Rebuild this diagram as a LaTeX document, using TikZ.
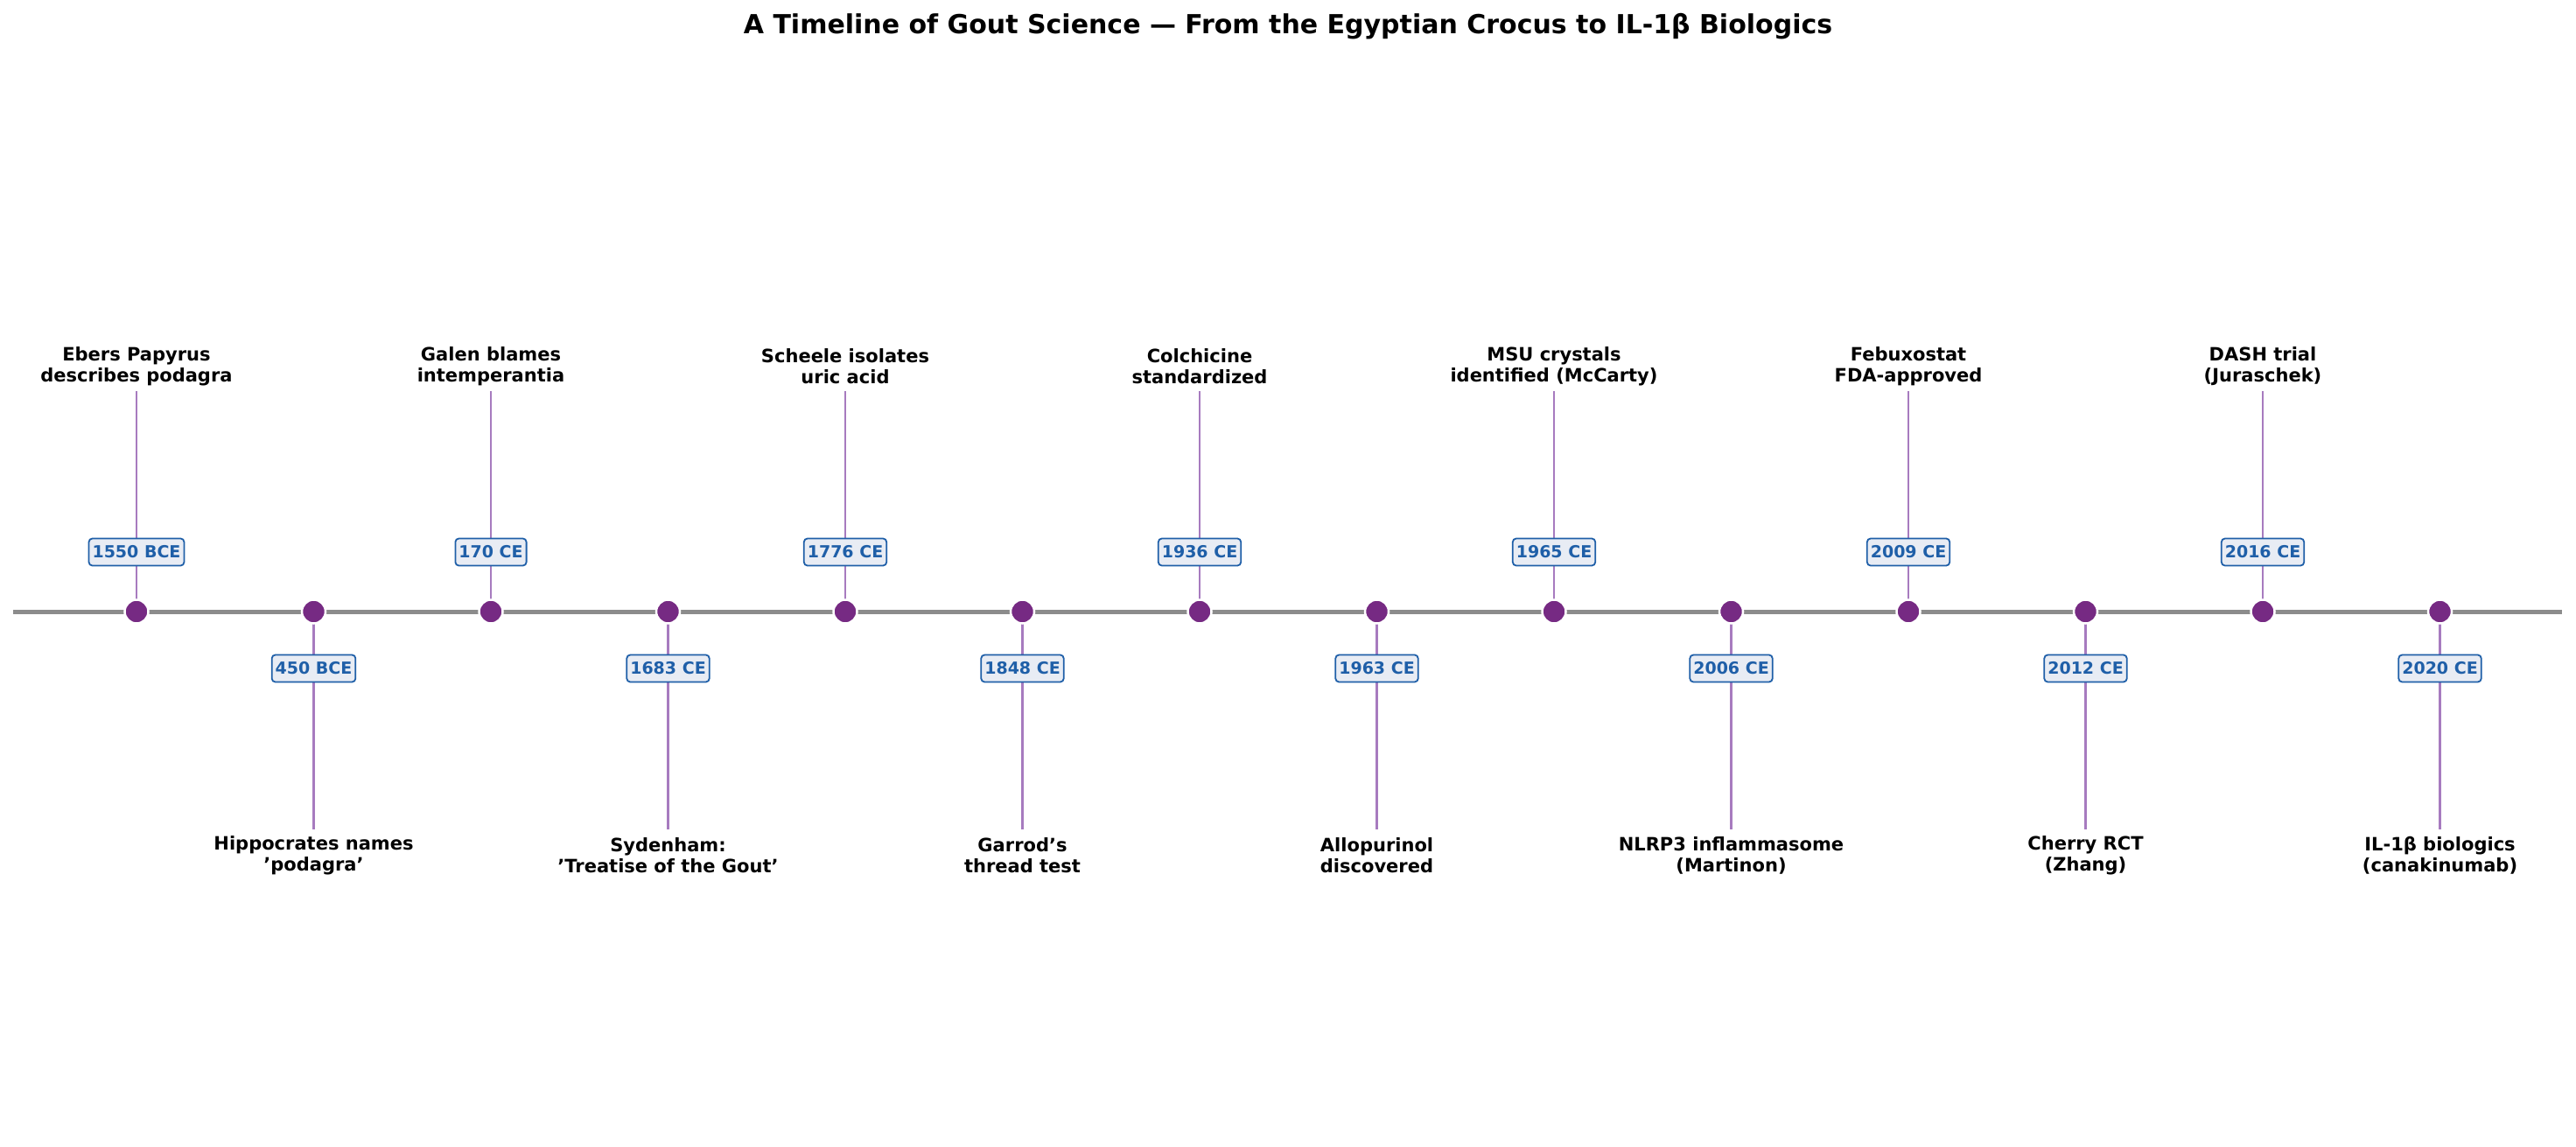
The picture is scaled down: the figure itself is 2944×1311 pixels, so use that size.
\documentclass[tikz,border=0pt]{standalone}
\usepackage{fontspec}
\setmainfont{DejaVu Sans}
\definecolor{dotc}{HTML}{762A83}
\definecolor{stemc}{HTML}{A77BBF}
\definecolor{yrc}{HTML}{1F5FA8}
\definecolor{yrfill}{HTML}{E8ECF4}
\begin{document}
\begin{tikzpicture}[x=1pt,y=-1pt,
  ev/.style={font=\fontsize{21}{24}\selectfont\bfseries, align=center, text=black},
  yr/.style={font=\fontsize{19}{22}\selectfont\bfseries, text=yrc, fill=yrfill, draw=yrc, line width=1.8pt, rounded corners=4pt, inner sep=4pt, minimum height=31pt},
  stem/.style={draw=stemc, line width=2.6pt},
  dot/.style={circle, fill=dotc, draw=white, line width=2.5pt, minimum size=27pt, inner sep=0pt}]
\useasboundingbox (0,0) rectangle (2944,1311);
\node[font=\fontsize{30}{34}\selectfont\bfseries] (title) at (1472,30) {A Timeline of Gout Science — From the Egyptian Crocus to IL-1β Biologics};
\coordinate (L) at (15,699); \coordinate (R) at (2928,699);
\draw[line width=5pt, color=gray!90] (L) -- (R);
\foreach \i/\yr/\txt in {0/1550 BCE/{Ebers Papyrus\\describes podagra},
  1/450 BCE/{Hippocrates names\\'podagra'},
  2/170 CE/{Galen blames\\intemperantia},
  3/1683 CE/{Sydenham:\\'Treatise of the Gout'},
  4/1776 CE/{Scheele isolates\\uric acid},
  5/1848 CE/{Garrod's\\thread test},
  6/1936 CE/{Colchicine\\standardized},
  7/1963 CE/{Allopurinol\\discovered},
  8/1965 CE/{MSU crystals\\identified (McCarty)},
  9/2006 CE/{NLRP3 inflammasome\\(Martinon)},
  10/2009 CE/{Febuxostat\\FDA-approved},
  11/2012 CE/{Cherry RCT\\(Zhang)},
  12/2016 CE/{DASH trial\\(Juraschek)},
  13/2020 CE/{IL-1β biologics\\(canakinumab)}}{
  \pgfmathsetmacro{\xx}{156+202.5*\i}
  \pgfmathparse{int(mod(\i,2))}
  \ifnum\pgfmathresult=0
    \node[ev] (t\i) at (\xx,419) {\txt};
    \coordinate (s\i) at (\xx,447);
    \node[yr] (y\i) at (\xx,631) {};
  \else
    \node[ev] (t\i) at (\xx,978) {\txt};
    \coordinate (s\i) at (\xx,948);
    \node[yr] (y\i) at (\xx,764) {};
  \fi
  \coordinate (d\i) at (\xx,699);
  \draw[stem] (s\i) -- (d\i);
  \node[yr] at (y\i) {\yr};
  \node[dot] at (d\i) {};
}
\end{tikzpicture}
\end{document}
